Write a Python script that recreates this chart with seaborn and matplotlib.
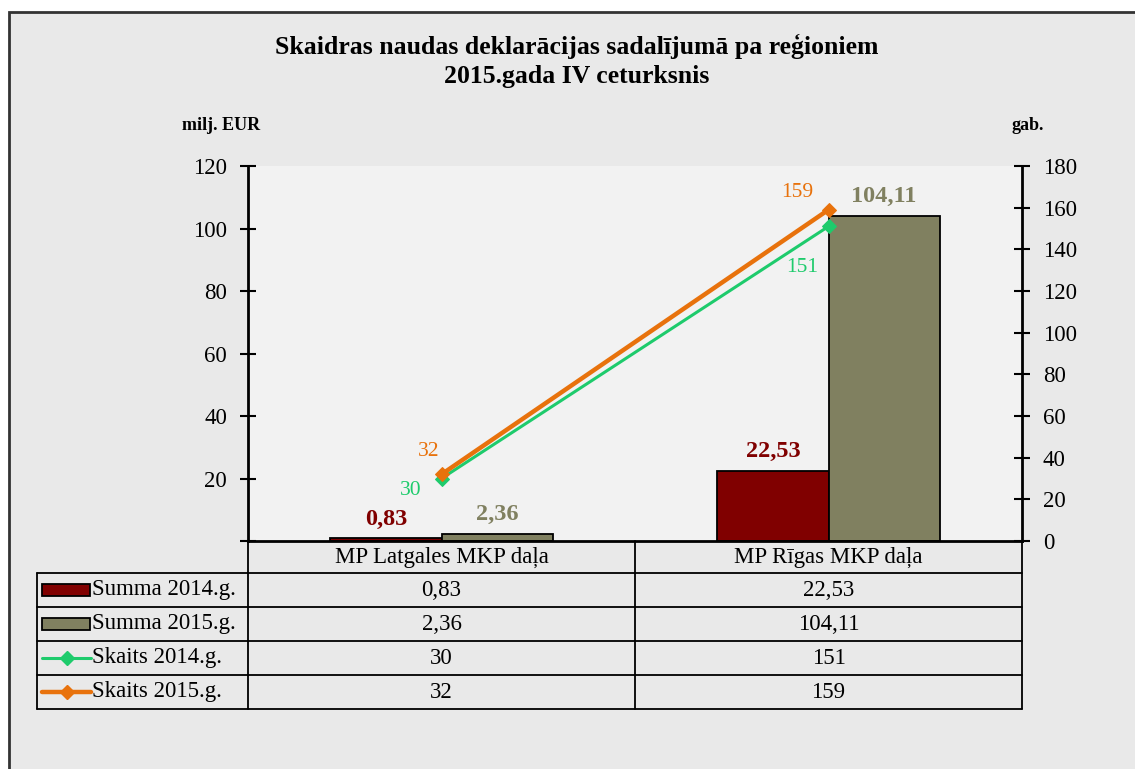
import numpy as np
import pandas as pd
import seaborn as sns
import matplotlib.pyplot as plt
import matplotlib.transforms as mtransforms
from matplotlib.patches import Rectangle
from matplotlib.lines import Line2D

# data
regions = ['MP Latgales MKP daļa', 'MP Rīgas MKP daļa']
bar_series = ['Summa 2014.g.', 'Summa 2015.g.']
line_series = ['Skaits 2014.g.', 'Skaits 2015.g.']
summa_2014 = [0.83, 22.53]
summa_2015 = [2.36, 104.11]
skaits_2014 = [30, 151]
skaits_2015 = [32, 159]
left_ticks = [0, 20, 40, 60, 80, 100, 120]
right_ticks = [0, 20, 40, 60, 80, 100, 120, 140, 160, 180]

c_2014 = '#800000'
c_2015 = '#808060'
c_sk14 = '#1ECB6C'
c_sk15 = '#E8720C'

W, H = 1135, 769


def fmt(v):
    return f'{v:.2f}'.replace('.', ',')


def fy(px):
    # pixel from top -> figure fraction
    return 1 - px / H


sns.set_theme(style='white')
plt.rcParams['font.family'] = ['Liberation Serif', 'DejaVu Serif']
plt.rcParams['text.color'] = 'black'
plt.rcParams['ytick.color'] = 'black'
plt.rcParams['ytick.labelcolor'] = 'black'

fig = plt.figure(figsize=(W / 100, H / 100), dpi=100)
fig.patch.set_facecolor('white')

# outer chart frame
frame = Rectangle((9 / W, -0.1), 1.2, fy(12) + 0.1, transform=fig.transFigure,
                  facecolor='#e9e9e9', edgecolor='#333333', linewidth=2, zorder=-10)
fig.add_artist(frame)

ax1 = fig.add_axes([248 / W, fy(541), 774 / W, 375 / H])
ax1.set_facecolor('#f2f2f2')

df_bars = pd.DataFrame({
    'region': regions * 2,
    'value': summa_2014 + summa_2015,
    'series': [bar_series[0]] * 2 + [bar_series[1]] * 2,
})
sns.barplot(data=df_bars, x='region', y='value', hue='series', order=regions,
            hue_order=bar_series, palette=[c_2014, c_2015], width=0.574, gap=0,
            edgecolor='black', linewidth=1.3, saturation=1, legend=False, ax=ax1)

for cont, vals, col in zip(ax1.containers, [summa_2014, summa_2015], [c_2014, c_2015]):
    ax1.bar_label(cont, labels=[fmt(v) for v in vals], padding=6, fontsize=17.5,
                  fontweight='bold', color=col)

ax1.set_xlim(-0.5, 1.5)
ax1.set_ylim(0, 120)
ax1.set_yticks(left_ticks)
ax1.set_yticklabels([''] + [str(t) for t in left_ticks[1:]])
ax1.set_xticks([])
ax1.set_xlabel('')
ax1.set_ylabel('')

ax2 = ax1.twinx()
xpos = np.arange(len(regions))
sns.lineplot(x=xpos, y=skaits_2014, color=c_sk14, linewidth=2.2, marker='D',
             markersize=7, markeredgecolor=c_sk14, ax=ax2)
sns.lineplot(x=xpos, y=skaits_2015, color=c_sk15, linewidth=3.2, marker='D',
             markersize=7, markeredgecolor=c_sk15, ax=ax2)
ax2.set_ylim(0, 180)
ax2.set_yticks(right_ticks)
ax2.set_xlim(-0.5, 1.5)

# point labels for the lines
offs_14 = [(-31, -12), (-26, -41)]
offs_15 = [(-13, 23), (-31, 17)]
for i in range(len(regions)):
    ax2.annotate(str(skaits_2014[i]), (xpos[i], skaits_2014[i]), xytext=offs_14[i],
                 textcoords='offset pixels', ha='center', va='center', fontsize=15.5, color=c_sk14)
    ax2.annotate(str(skaits_2015[i]), (xpos[i], skaits_2015[i]), xytext=offs_15[i],
                 textcoords='offset pixels', ha='center', va='center', fontsize=15.5, color=c_sk15)

for ax in (ax1, ax2):
    for s in ('top', 'left', 'right', 'bottom'):
        ax.spines[s].set_visible(False)
    ax.tick_params(axis='y', direction='inout', length=12, width=1.5, colors='black',
                   labelsize=16.5, pad=9)
ax1.spines['left'].set_visible(True)
ax1.spines['bottom'].set_visible(True)
ax2.spines['right'].set_visible(True)
for sp in (ax1.spines['left'], ax1.spines['bottom'], ax2.spines['right']):
    sp.set_color('black')
    sp.set_linewidth(2)
ax1.tick_params(axis='y', left=True, right=False)
ax2.tick_params(axis='y', right=True, left=False)

# titles and axis unit labels
fig.text(577 / W, fy(46), 'Skaidras naudas deklarācijas sadalījumā pa reģioniem',
         ha='center', va='center', fontsize=18.5, fontweight='bold')
fig.text(577 / W, fy(76), '2015.gada IV ceturksnis',
         ha='center', va='center', fontsize=18.5, fontweight='bold')
fig.text(221 / W, fy(125), 'milj. EUR', ha='center', va='center', fontsize=13, fontweight='bold')
fig.text(1028 / W, fy(125), 'gab.', ha='center', va='center', fontsize=13, fontweight='bold')

# data table under the plot
trans = mtransforms.blended_transform_factory(ax1.transData, fig.transFigure)
row_edges = [541, 573, 607, 641, 675, 709]
x_leg = 37 / W


def hline(y, x0, x1, t0, t1):
    # x0 in t0 coords, x1 in t1 coords -> convert both to figure fraction
    a = fig.transFigure.inverted().transform(t0.transform((x0, 0)))[0]
    b = fig.transFigure.inverted().transform(t1.transform((x1, 0)))[0]
    fig.add_artist(Line2D([a, b], [fy(y), fy(y)], transform=fig.transFigure,
                          color='black', linewidth=1.3))


fig.canvas.draw()
for y in row_edges[1:]:
    hline(y, x_leg, 1.5, fig.transFigure, ax1.transData)
for xb in [-0.5, 0.5, 1.5]:
    fig.add_artist(Line2D([xb, xb], [fy(row_edges[0]), fy(row_edges[-1])], transform=trans,
                          color='black', linewidth=1.3))
fig.add_artist(Line2D([x_leg, x_leg], [fy(row_edges[1]), fy(row_edges[-1])],
                      transform=fig.transFigure, color='black', linewidth=1.3))

row_mid = [(row_edges[i] + row_edges[i + 1]) / 2 for i in range(len(row_edges) - 1)]
for i, r in enumerate(regions):
    fig.text(xpos[i], fy(row_mid[0]), r, transform=trans, ha='center', va='center', fontsize=16.5)

table_rows = [
    (bar_series[0], summa_2014, c_2014, 'bar'),
    (bar_series[1], summa_2015, c_2015, 'bar'),
    (line_series[0], skaits_2014, c_sk14, 'line'),
    (line_series[1], skaits_2015, c_sk15, 'line'),
]
for k, (name, vals, col, kind) in enumerate(table_rows):
    ym = fy(row_mid[k + 1])
    if kind == 'bar':
        fig.add_artist(Rectangle((42 / W, ym - 6 / H), 48 / W, 12 / H, transform=fig.transFigure,
                                 facecolor=col, edgecolor='black', linewidth=1.3))
    else:
        lw = 2.2 if k == 2 else 3.2
        fig.add_artist(Line2D([42 / W, 91 / W], [ym, ym], transform=fig.transFigure,
                              color=col, linewidth=lw))
        fig.add_artist(Line2D([66.5 / W], [ym], transform=fig.transFigure, color=col,
                              marker='D', markersize=7, linestyle='none'))
    fig.text(92 / W, ym, name, ha='left', va='center', fontsize=16.5)
    for i in range(len(regions)):
        txt = fmt(vals[i]) if kind == 'bar' else str(vals[i])
        fig.text(xpos[i], ym, txt, transform=trans, ha='center', va='center', fontsize=16.5)

fig.savefig('out.png', dpi=100)
